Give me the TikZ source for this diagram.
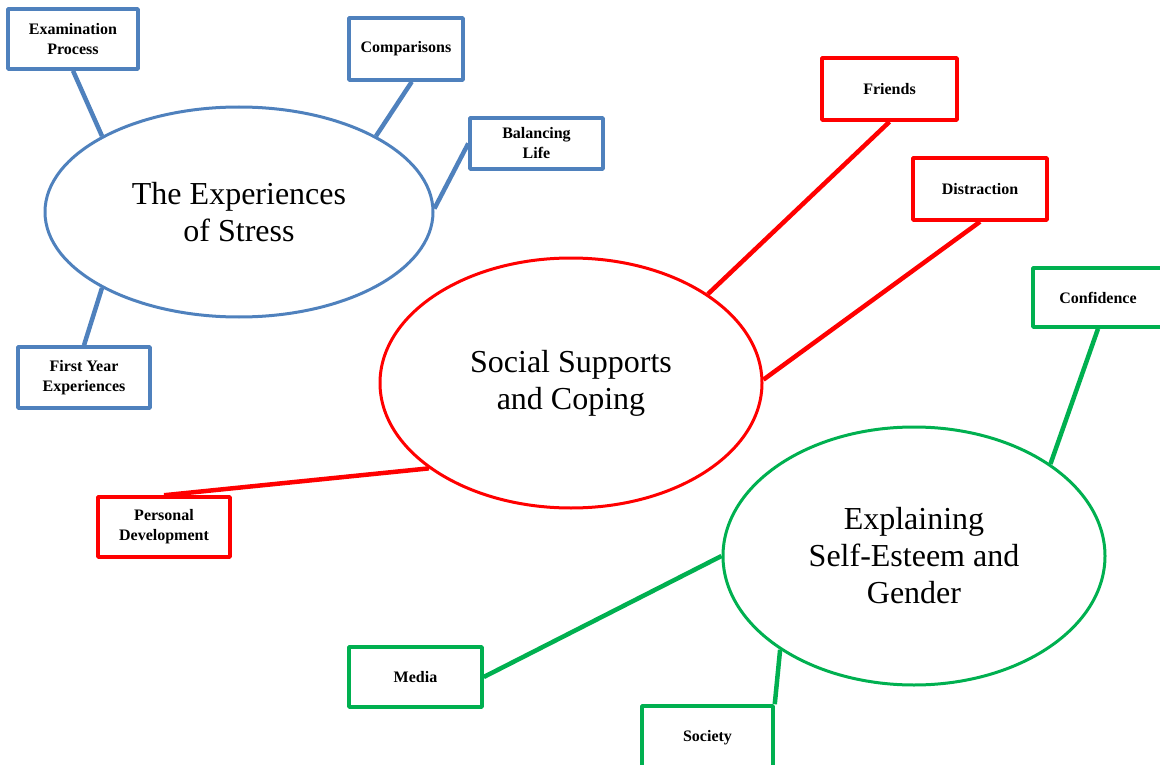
\documentclass[tikz,border=0pt]{standalone}
\usepackage{fontspec}
\setmainfont{Liberation Serif}
\usetikzlibrary{shapes.geometric}
\definecolor{stressblue}{RGB}{79,129,189}
\definecolor{copingred}{RGB}{255,0,0}
\definecolor{gendergreen}{RGB}{0,176,80}

\begin{document}
\begin{tikzpicture}[x=1pt,y=-1pt,line join=round]
    \tikzstyle{theme}=[ellipse,draw,line width=3pt,inner sep=0pt,align=center,font=\fontsize{32}{37}\selectfont]
    \tikzstyle{code}=[draw,line width=3.5pt,minimum width=132pt,minimum height=61pt,inner sep=2pt,align=center,font=\fontsize{16}{20}\selectfont\bfseries]
    \tikzstyle{link}=[line width=4.5pt]
    \useasboundingbox (0,0) rectangle (1160,765);
    % main themes
    \node[theme,draw=stressblue,minimum width=388pt,minimum height=210pt] (st) at (239,212) {The Experiences\\of Stress};
    \node[theme,draw=copingred,minimum width=382pt,minimum height=250pt] (sc) at (571,383) {Social Supports\\and Coping};
    \node[theme,draw=gendergreen,minimum width=382pt,minimum height=258pt] (sg) at (914,556) {Explaining\\Self-Esteem and\\Gender};
    % sub themes, stress
    \node[code,draw=stressblue,minimum width=130pt,minimum height=60pt] (ex) at (73,39) {Examination\\Process};
    \node[code,draw=stressblue,minimum width=114pt,minimum height=62pt] (cp) at (406,49) {Comparisons};
    \node[code,draw=stressblue,minimum width=133pt,minimum height=51pt] (bl) at (536.5,143.5) {Balancing\\Life};
    \node[code,draw=stressblue] (fy) at (84,377.5) {First Year\\Experiences};
    % sub themes, coping
    \node[code,draw=copingred,minimum width=135pt,minimum height=62pt] (fr) at (889.5,89) {Friends};
    \node[code,draw=copingred,minimum width=134pt,minimum height=62pt] (di) at (980,189) {Distraction};
    \node[code,draw=copingred,minimum height=60pt] (pd) at (164,527) {Personal\\Development};
    % sub themes, gender
    \node[code,draw=gendergreen,minimum width=130pt,minimum height=59pt] (cf) at (1098,297.5) {Confidence};
    \node[code,draw=gendergreen,minimum width=133pt,minimum height=60pt] (me) at (415.5,677) {Media};
    \node[code,draw=gendergreen,minimum width=131pt,minimum height=64pt] (so) at (707.5,738) {Society};
    % links
    \draw[link,stressblue] (ex.south) -- (st.151);
    \draw[link,stressblue] (cp.-80) -- (st.29);
    \draw[link,stressblue] (bl.west) -- (st.1);
    \draw[link,stressblue] (fy.north) -- (st.209);
    \draw[link,copingred] (fr.south) -- (sc.33.5);
    \draw[link,copingred] (di.south) -- (sc.1.5);
    \draw[link,copingred] (pd.north) -- (sc.211.7);
    \draw[link,gendergreen] (cf.south) -- (sg.34.4);
    \draw[link,gendergreen] (me.east) -- (sg.180);
    \draw[link,gendergreen] (so.north east) -- (sg.215);
\end{tikzpicture}
\end{document}
